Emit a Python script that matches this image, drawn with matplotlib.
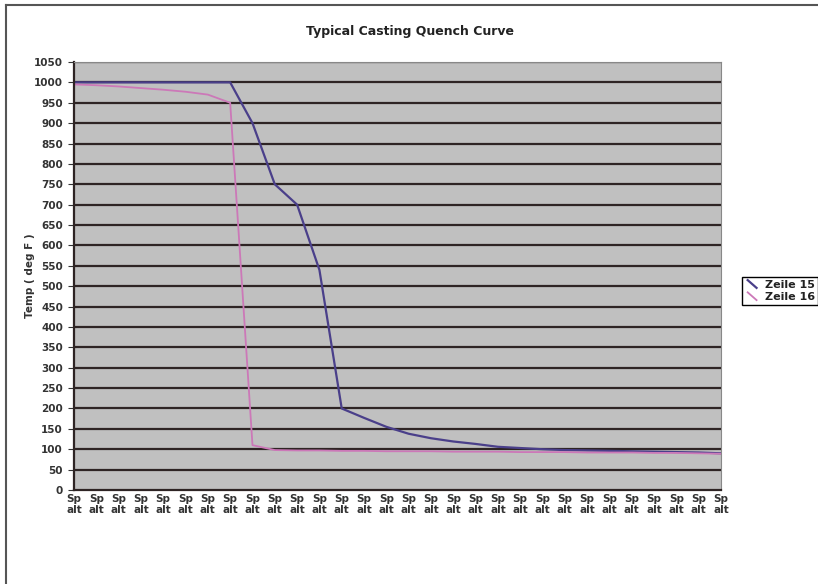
import matplotlib.pyplot as plt
import numpy as np
from matplotlib.lines import Line2D
from matplotlib.legend_handler import HandlerBase

# data
categories = ["Sp\nalt"] * 30
zeile15 = [1000, 1000, 1000, 1000, 1000, 1000, 1000, 1000, 900, 750,
           700, 540, 200, 177, 155, 138, 127, 119, 113, 106,
           103, 100, 98, 97, 96, 95, 94, 93, 92, 90]
zeile16 = [995, 993, 990, 986, 982, 977, 970, 950, 110, 98,
           97, 97, 96, 96, 95, 95, 95, 94, 94, 94,
           93, 93, 93, 92, 92, 92, 91, 91, 90, 89]
yticks = list(range(0, 1051, 50))


class DiagHandler(HandlerBase):
    # Excel style diagonal legend key
    def create_artists(self, legend, orig, xd, yd, w, h, fontsize, trans):
        ln = Line2D([xd + 2, xd + w - 2], [yd + h, yd], color=orig.get_color(),
                    lw=orig.get_linewidth(), transform=trans)
        return [ln]


fig = plt.figure(figsize=(8.18, 5.84), dpi=100)
ax = fig.add_axes([74 / 818, 94 / 584, 647 / 818, 428 / 584])
ax.set_facecolor("#c0c0c0")

x = np.arange(len(categories))
l1, = ax.plot(x, zeile15, color="#4a3f8a", lw=1.6, label="Zeile 15")
l2, = ax.plot(x, zeile16, color="#cc78b8", lw=1.3, label="Zeile 16")

ax.set_xlim(0, len(categories) - 1)
ax.set_ylim(0, 1050)
ax.set_yticks(yticks)
ax.set_yticklabels([str(v) for v in yticks], fontsize=7.5, fontweight="bold", color="#333333")
ax.set_xticks(x)
ax.set_xticklabels(categories, fontsize=7.5, fontweight="bold", color="#333333", linespacing=1.1)
ax.tick_params(axis="x", length=0, pad=3)
ax.tick_params(axis="y", length=4, color="#333333", pad=4)

for v in yticks[1:]:
    ax.axhline(v, color="#2e2424", lw=1.6, zorder=1)
for side in ["top", "right"]:
    ax.spines[side].set_color("#888888")
    ax.spines[side].set_linewidth(0.8)
for side in ["left", "bottom"]:
    ax.spines[side].set_color("#2e2424")
    ax.spines[side].set_linewidth(1.6)

fig.text(410 / 818, 1 - 31 / 584, "Typical Casting Quench Curve", ha="center", va="center",
         fontsize=9, fontweight="bold", color="#222222")
fig.text(30 / 818, 1 - 276 / 584, "Temp ( deg F )", rotation=90, ha="center", va="center",
         fontsize=7.5, fontweight="bold", color="#333333")

leg = fig.legend(handles=[l1, l2], loc="center left", bbox_to_anchor=(736 / 818, 1 - 291 / 584),
                 handler_map={Line2D: DiagHandler()}, fontsize=8, frameon=True,
                 fancybox=False, edgecolor="black", framealpha=1, handlelength=1.3,
                 handletextpad=0.5, borderpad=0.3, labelspacing=0.2)
leg.get_frame().set_linewidth(1.0)
for t in leg.get_texts():
    t.set_fontweight("bold")
    t.set_color("#222222")

# outer frame (top and left edges visible)
fig.add_artist(Line2D([6 / 818, 1], [1 - 5 / 584, 1 - 5 / 584], color="#555555", lw=1.5))
fig.add_artist(Line2D([6 / 818, 6 / 818], [0, 1 - 5 / 584], color="#555555", lw=1.5))

fig.savefig("out.png", dpi=100)
